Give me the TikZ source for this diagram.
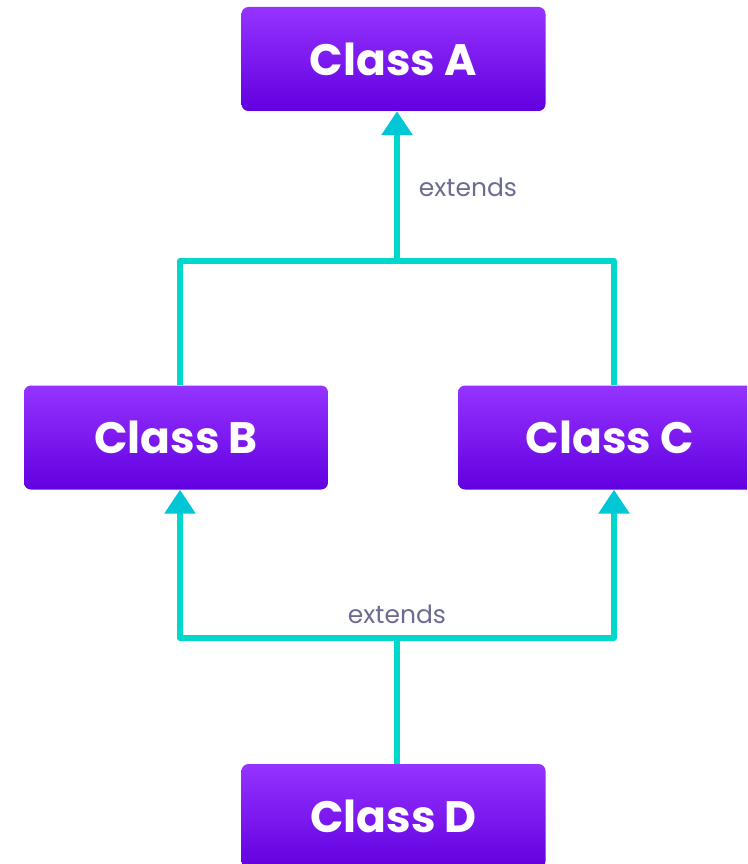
\documentclass[tikz,border=0pt]{standalone}
\usepackage{fontspec}
\setmainfont{Poppins}
\newfontfamily\boxfont{Poppins}[UprightFont=* Bold]
\usetikzlibrary{arrows.meta,calc}
\definecolor{boxtop}{HTML}{9533FF}
\definecolor{boxbot}{HTML}{6200E0}
\definecolor{linec}{HTML}{00D8CC}
\definecolor{tipc}{HTML}{00C6D6}
\definecolor{labelc}{HTML}{6C6C92}
\tikzset{
  classbox/.style={rectangle, rounded corners=7pt, minimum width=304pt, minimum height=104pt,
    top color=boxtop, bottom color=boxbot, draw=none, text=white,
    font=\boxfont\fontsize{44}{52}\selectfont, inner sep=0pt},
  conn/.style={draw=linec, line width=6pt, line join=round},
  tipstyle/.style={Triangle[width=30pt,length=24pt,color=tipc]},
  arr/.style={conn, -{Triangle[width=30pt,length=24pt,color=tipc]}},
  arr2/.style={conn, {Triangle[width=30pt,length=24pt,color=tipc]}-{Triangle[width=30pt,length=24pt,color=tipc]}},
  lbl/.style={text=labelc, font=\fontsize{25}{30}\selectfont, inner sep=0pt}
}
\begin{document}
\begin{tikzpicture}[x=1pt,y=-1pt]
\useasboundingbox (0,0) rectangle (747,864);
\clip (0,0) rectangle (747,864);
\fill[white] (0,0) rectangle (747,864);
\node[classbox] (A) at (393.5,59) {Class A};
\node[classbox] (B) at (176,437.5) {Class B};
\node[classbox] (C) at (610,437.5) {Class C};
\node[classbox] (D) at (393.5,816) {Class D};
\coordinate (t1) at (180,261);
\coordinate (t2) at (397,261);
\coordinate (t3) at (614,261);
\coordinate (b1) at (180,638);
\coordinate (b2) at (397,638);
\coordinate (b3) at (614,638);
% upper
\draw[conn] (t1 |- B.north) -- (t1) -- (t3) -- (t3 |- C.north);
\draw[arr] (t2) -- (t2 |- A.south);
\node[lbl] (l1) at (468,187) {extends};
% lower
\draw[conn] (b2 |- D.north) -- (b2);
\draw[arr2] (b1 |- B.south) -- (b1) -- (b3) -- (b3 |- C.south);
\node[lbl] (l2) at (397,614) {extends};
\end{tikzpicture}
\end{document}
